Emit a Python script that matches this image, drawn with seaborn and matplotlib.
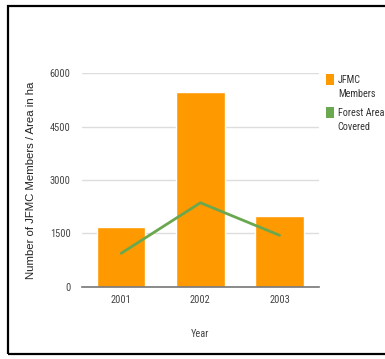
import matplotlib
matplotlib.use("Agg")
import matplotlib.pyplot as plt
from matplotlib.patches import Patch, Rectangle
from matplotlib import font_manager
import seaborn as sns
import pandas as pd

years = ["2001", "2002", "2003"]
jfmc_members = [1690, 5480, 2000]
forest_area = [940, 2360, 1445]
legend_first = ["JFMC", "Forest Area"]
legend_second = ["Members", "Covered"]

sns.set_theme(style="white")
plt.rcParams["font.family"] = ["Liberation Sans", "DejaVu Sans"]

# pick a narrow face for ticks and legend if one is installed
narrow_file = None
for f in font_manager.fontManager.ttflist:
    if f.style == "normal" and f.weight in (400, "normal") and (
            "condensed" in str(f.stretch) or "Narrow" in f.name
            or "Condensed" in f.name):
        narrow_file = f.fname
        if "Liberation" in f.name or "Roboto" in f.name:
            break

if narrow_file:
    narrow_fp = font_manager.FontProperties(fname=narrow_file, size=7.5)
    legend_fp = font_manager.FontProperties(fname=narrow_file, size=7.3)
else:
    narrow_fp = font_manager.FontProperties(family=["Liberation Sans"], size=7)
    legend_fp = font_manager.FontProperties(family=["Liberation Sans"], size=6.5)

df = pd.DataFrame({"Year": years, "Members": jfmc_members, "Area": forest_area})

fig = plt.figure(figsize=(3.85, 3.59), dpi=100)
ax = fig.add_axes([0.212, 0.2014, 0.617, 0.5944])

orange = "#FF9900"
green = "#6AA84F"

sns.barplot(data=df, x="Year", y="Members", color=orange, saturation=1,
            width=0.61, ax=ax, zorder=2)
sns.pointplot(data=df, x="Year", y="Area", color=green, markers="",
              linewidth=2, ax=ax, zorder=3)

ax.set_ylim(0, 6000)
ax.set_yticks([0, 1500, 3000, 4500, 6000])
ax.set_xlim(-0.5, 2.5)
ax.yaxis.grid(True, color="#dddddd", linewidth=1, zorder=0)
ax.set_axisbelow(True)
for s in ["top", "right", "left"]:
    ax.spines[s].set_visible(False)
ax.spines["bottom"].set_color("#777777")
ax.spines["bottom"].set_linewidth(1.2)
ax.spines["bottom"].set_zorder(4)
ax.tick_params(axis="both", length=0, colors="#444444", pad=6)
ax.tick_params(axis="y", pad=8)
for lbl in ax.get_xticklabels() + ax.get_yticklabels():
    lbl.set_fontproperties(narrow_fp)

ax.set_xlabel("Year", fontproperties=narrow_fp, color="#444444", labelpad=17)
ax.set_ylabel("Number of JFMC Members / Area in ha", fontsize=8.2,
              color="#222222", va="center")
ax.yaxis.set_label_coords(-0.211, 0.5)

handles = [Patch(facecolor=orange, edgecolor="none"),
           Patch(facecolor=green, edgecolor="none")]
leg = fig.legend(handles, legend_first,
                 loc="upper left", bbox_to_anchor=(0.847, 0.795), frameon=False,
                 prop=legend_fp,
                 handlelength=0.8, handleheight=1.4,
                 handletextpad=0.35, labelspacing=2.1, labelcolor="#333333",
                 borderaxespad=0, borderpad=0)

# second line of each legend label, set just under the first line
fig.canvas.draw()
renderer = fig.canvas.get_renderer()
for txt, second in zip(leg.get_texts(), legend_second):
    bb = txt.get_window_extent(renderer)
    fig.text(bb.x0 / fig.bbox.width, (bb.y0 - 14) / fig.bbox.height, second,
             fontproperties=legend_fp, color="#333333", ha="left", va="bottom")

# page frame
fig.patches.append(Rectangle((7.5 / 385, 5 / 359), 1.1, (353 - 5) / 359,
                             transform=fig.transFigure, fill=False,
                             edgecolor="black", linewidth=1.6, clip_on=False))

fig.savefig("out.png", dpi=100)
